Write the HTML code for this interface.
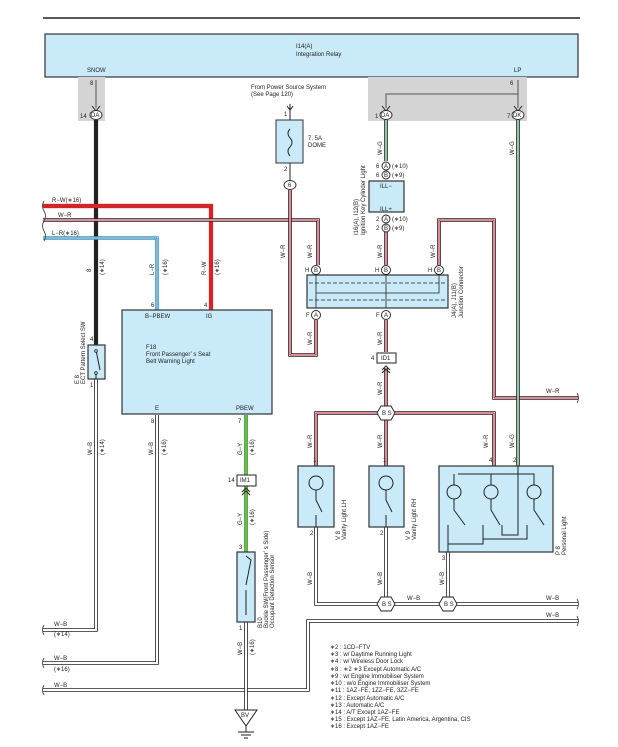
<!DOCTYPE html>
<html><head><meta charset="utf-8"><style>
html,body{margin:0;padding:0;background:#fff;}
svg{display:block;font-family:"Liberation Sans",sans-serif;}
text{font-size:6px;fill:#222;}
.k{fill:none;stroke:#222;stroke-width:3.6;}
.w{fill:none;stroke:#fff;stroke-width:2;}
.r{fill:none;stroke:#c8102e;stroke-width:1;}
.g{fill:none;stroke:#1a9a4a;stroke-width:1;}
.y{fill:none;stroke:#e6d400;stroke-width:1;}
.bl{fill:none;stroke:#2aa0c8;stroke-width:3.6;}
.box{fill:#c9eaf8;stroke:#333;stroke-width:1.2;}
.conn{fill:#fff;stroke:#222;stroke-width:0.9;}
</style></head><body>
<svg width="618" height="747" viewBox="0 0 618 747">
<defs>
<path id="p1" d="M96 379V630H43"/>
<path id="p2" d="M43 220H318V265"/>
<path id="p4" d="M290 190V355H316V320"/>
<path id="p5" d="M386 120V161"/>
<path id="p6" d="M386 232V265"/>
<path id="p7" d="M386 320V352M386 368V408"/>
<path id="p8" d="M439 265V220H494V398H578"/>
<path id="p9" d="M518 120V466"/>
<path id="p10" d="M316 466V413H381M391 413H494V466M386 418V466"/>
<path id="p11" d="M316 527V604H381M386 527V599M391 604H443M448 552V599M453 604H578"/>
<path id="p12" d="M578 621H308V690H43"/>
<path id="p13" d="M157 415V663H43"/>
<path id="p14" d="M246 415V475M246 486V552"/>
<path id="p15" d="M246 622V710"/>
</defs>
<line x1="43" y1="18" x2="580" y2="18" stroke="#222" stroke-width="1.5"/>
<rect x="45" y="34" width="533" height="43" class="box"/>
<text x="296" y="48">I14(A)</text><text x="296" y="56">Integration Relay</text>
<text x="87" y="72">SNOW</text><text x="514" y="72">LP</text>
<rect x="78" y="77" width="27" height="44" fill="#d4d4d4"/>
<rect x="368" y="77" width="159" height="44" fill="#d4d4d4"/>
<text x="90" y="85">8</text><text x="510" y="85">6</text>
<path d="M96 80V108M518 80V108M518 94H386V108" stroke="#555" stroke-width="1" fill="none"/>
<path d="M92 106L96 111L100 106M382 106L386 111L390 106M514 106L518 111L522 106" stroke="#222" fill="none"/>
<text x="80" y="118">14</text><text x="375" y="118">1</text><text x="507" y="118">7</text>
<path d="M96 120V345" stroke="#222" stroke-width="4.2"/>
<path d="M43 206H211V310" stroke="#e02020" stroke-width="4.2" fill="none"/>
<path d="M43 238H157V310" class="bl"/><path d="M43 238H157V310" class="w"/><path d="M43 238H157V310" stroke="#1a6ab0" stroke-width="1" fill="none"/>
<g>
<use href="#p1" class="k"/><use href="#p1" class="w"/>
<use href="#p2" class="k"/><use href="#p2" class="w"/><use href="#p2" class="r"/>
<use href="#p4" class="k"/><use href="#p4" class="w"/><use href="#p4" class="r"/>
<use href="#p5" class="k"/><use href="#p5" class="w"/><use href="#p5" class="g"/>
<use href="#p6" class="k"/><use href="#p6" class="w"/><use href="#p6" class="r"/>
<use href="#p7" class="k"/><use href="#p7" class="w"/><use href="#p7" class="r"/>
<use href="#p8" class="k"/><use href="#p8" class="w"/><use href="#p8" class="r"/>
<use href="#p9" class="k"/><use href="#p9" class="w"/><use href="#p9" class="g"/>
<use href="#p10" class="k"/><use href="#p10" class="w"/><use href="#p10" class="r"/>
<use href="#p11" class="k"/><use href="#p11" class="w"/>
<use href="#p12" class="k"/><use href="#p12" class="w"/>
<use href="#p13" class="k"/><use href="#p13" class="w"/>
<use href="#p14" stroke="#1a9a4a" stroke-width="3.6" fill="none"/><use href="#p14" class="y" stroke-width="1.8"/>
<use href="#p15" class="k"/><use href="#p15" class="w"/>
</g>
<path d="M44 201q-3 5 0 10q3 5 0 10q-3 5 0 10q3 5 0 10M44 625q-3 5 0 10M44 658q-3 5 0 10M44 685q-3 5 0 10M577 393q3 5 0 10M577 599q3 5 0 10M577 616q3 5 0 10" stroke="#333" fill="none" stroke-width="0.8"/>
<ellipse cx="96" cy="115" rx="6" ry="4.5" class="conn"/><text x="91" y="117" font-size="5">DA</text>
<ellipse cx="386" cy="115" rx="6" ry="4.5" class="conn"/><text x="381" y="117" font-size="5">DA</text>
<ellipse cx="518" cy="115" rx="6" ry="4.5" class="conn"/><text x="513" y="117" font-size="5">DK</text>
<text x="251" y="89">From Power Source System</text><text x="251" y="96">(See Page 120)</text>
<path d="M290 104V190M287 106L290 110L293 106" stroke="#222" fill="none"/>
<rect x="276" y="120" width="27" height="43" fill="#c9eaf8" stroke="#333"/>
<path d="M290 129q-4 4 0 9q4 4 0 9q-4 4 0 9" stroke="#222" fill="none"/>
<text x="284" y="116">1</text><text x="284" y="171">2</text>
<text x="308" y="140">7. 5A</text><text x="308" y="147">DOME</text>
<ellipse cx="290" cy="185" rx="6" ry="4.5" class="conn"/><text x="288" y="187" font-size="5">6</text>
<circle cx="386" cy="166" r="4" class="conn"/><text x="384" y="168" font-size="5">A</text>
<circle cx="386" cy="175" r="4" class="conn"/><text x="384" y="177" font-size="5">B</text>
<text x="376" y="168">6</text><text x="376" y="177">6</text><text x="392" y="168">(∗10)</text><text x="392" y="177">(∗9)</text>
<rect x="369" y="181" width="35" height="31" class="box"/><text x="380" y="188">ILL−</text><text x="380" y="211">ILL+</text>
<circle cx="386" cy="219" r="4" class="conn"/><text x="384" y="221" font-size="5">A</text>
<circle cx="386" cy="228" r="4" class="conn"/><text x="384" y="230" font-size="5">B</text>
<text x="376" y="221">2</text><text x="376" y="230">2</text><text x="392" y="221">(∗10)</text><text x="392" y="230">(∗9)</text>
<text transform="translate(358,235) rotate(-90)">I16(A), I12(B)</text>
<text transform="translate(365,235) rotate(-90)">Ignition Key Cylinder Light</text>
<rect x="307" y="275" width="141" height="33" class="box"/>
<path d="M309 283H446M309 300H446" stroke="#222" stroke-dasharray="4 2" stroke-width="0.7"/>
<path d="M316 275V308M386 275V308M439 275V293H316" stroke="#222" stroke-width="0.8" fill="none"/>
<circle cx="316" cy="270" r="4.5" class="conn"/><text x="314" y="272" font-size="5">B</text>
<circle cx="386" cy="270" r="4.5" class="conn"/><text x="384" y="272" font-size="5">B</text>
<circle cx="439" cy="270" r="4.5" class="conn"/><text x="437" y="272" font-size="5">B</text>
<circle cx="316" cy="315" r="4.5" class="conn"/><text x="314" y="317" font-size="5">A</text>
<circle cx="386" cy="315" r="4.5" class="conn"/><text x="384" y="317" font-size="5">A</text>
<text x="305" y="272">H</text><text x="375" y="272">H</text><text x="428" y="272">H</text>
<text x="306" y="317">F</text><text x="376" y="317">F</text>
<text transform="translate(456,318) rotate(-90)">J4(A), J11(B)</text>
<text transform="translate(463,318) rotate(-90)">Junction Connector</text>
<rect x="377" y="353" width="19" height="10" fill="#fff" stroke="#222"/><text x="381" y="360">ID1</text><text x="371" y="360">4</text>
<path d="M382 370L386 366L390 370M382 373L386 369L390 373" stroke="#222" fill="none"/>
<g class="conn"><polygon points="381,406 391,406 395,413 391,420 381,420 377,413"/><polygon points="381,597 391,597 395,604 391,611 381,611 377,604"/><polygon points="443,597 453,597 457,604 453,611 443,611 439,604"/></g>
<text x="382" y="415">B S</text><text x="382" y="606">B S</text><text x="444" y="606">B S</text>
<rect x="122" y="310" width="150" height="104" class="box"/>
<text x="145" y="318">B−PBEW</text><text x="206" y="318">IG</text>
<text x="146" y="349">F18</text><text x="146" y="356">Front Passenger’ s Seat</text><text x="146" y="363">Belt Warning Light</text>
<text x="155" y="410">E</text><text x="236" y="410">PBEW</text>
<text x="151" y="307">6</text><text x="204" y="307">4</text><text x="151" y="423">8</text><text x="238" y="423">7</text>
<rect x="88" y="345" width="17" height="34" class="box"/>
<path d="M96 350L100 370M96 374V379" stroke="#222" fill="none"/><circle cx="96" cy="351" r="1.3" class="conn"/><circle cx="96" cy="373" r="1.3" class="conn"/>
<text x="90" y="341">4</text><text x="90" y="387">1</text>
<text transform="translate(79,384) rotate(-90)">E 8</text><text transform="translate(85,384) rotate(-90)">ECT Pattern Select SW</text>
<rect x="237" y="475" width="19" height="11" fill="#fff" stroke="#222"/><text x="240" y="482">IM1</text><text x="228" y="482">14</text>
<path d="M242 492L246 488L250 492M242 495L246 491L250 495" stroke="#222" fill="none"/>
<rect x="237" y="552" width="18" height="70" class="box"/>
<path d="M246 556L251 560L246 585M246 590L246 615" stroke="#222" fill="none"/>
<text x="239" y="549">3</text><text x="239" y="630">1</text>
<text transform="translate(262,628) rotate(-90)">B10</text><text transform="translate(268,628) rotate(-90)">Buckle SW(Front Passenger’ s Side)</text><text transform="translate(274,628) rotate(-90)">Occupant Detection Sensor</text>
<polygon points="235,710 257,710 246,726" fill="#fff" stroke="#222"/><text x="241" y="717">BV</text>
<path d="M246 726V732M238 732H254M241 735H251M244 738H248" stroke="#222" fill="none"/>
<rect x="298" y="466" width="36" height="61" class="box"/>
<rect x="369" y="466" width="35" height="61" class="box"/>
<rect x="439" y="466" width="114" height="86" class="box"/>
<g stroke="#222" fill="none">
<circle cx="316" cy="483" r="7"/><circle cx="386" cy="483" r="7"/>
<path d="M316 490V500L322 512M316 515V527M386 490V500L392 512M386 515V527"/>
<circle cx="454" cy="492" r="7"/><circle cx="491" cy="492" r="7"/><circle cx="534" cy="492" r="7"/>
<path d="M458 474H534V485M491 474V485M454 485V474M454 499V510L465 525M491 499V510L500 525M534 499V510L544 525M448 525V544H483V525M518 466V535H502V525M448 544V552M527 525V539H483"/>
</g>
<text x="313" y="462">1</text><text x="383" y="462">1</text><text x="489" y="462">4</text><text x="513" y="462">2</text>
<text x="310" y="535">2</text><text x="380" y="535">2</text><text x="442" y="560">3</text>
<text transform="translate(340,540) rotate(-90)">V 8</text><text transform="translate(346,540) rotate(-90)">Vanity Light LH</text>
<text transform="translate(410,540) rotate(-90)">V 9</text><text transform="translate(416,540) rotate(-90)">Vanity Light RH</text>
<text transform="translate(560,555) rotate(-90)">P 8</text><text transform="translate(566,555) rotate(-90)">Personal Light</text>
<text x="52" y="202">R−W(∗16)</text><text x="58" y="217">W−R</text><text x="52" y="235">L−R(∗16)</text>
<text x="546" y="393">W−R</text><text x="407" y="600">W−B</text><text x="546" y="600">W−B</text><text x="546" y="617">W−B</text>
<text x="54" y="626">W−B</text><text x="54" y="636">(∗14)</text><text x="54" y="660">W−B</text><text x="54" y="671">(∗16)</text><text x="54" y="687">W−B</text>
<g>
<text transform="translate(91,272) rotate(-90)">8</text><text transform="translate(104,275) rotate(-90)">(∗14)</text>
<text transform="translate(154,275) rotate(-90)">L−R</text><text transform="translate(167,275) rotate(-90)">(∗16)</text>
<text transform="translate(206,275) rotate(-90)">R−W</text><text transform="translate(219,275) rotate(-90)">(∗16)</text>
<text transform="translate(285,258) rotate(-90)">W−R</text><text transform="translate(312,258) rotate(-90)">W−R</text>
<text transform="translate(382,258) rotate(-90)">W−R</text><text transform="translate(435,258) rotate(-90)">W−R</text>
<text transform="translate(382,155) rotate(-90)">W−G</text><text transform="translate(514,155) rotate(-90)">W−G</text>
<text transform="translate(312,345) rotate(-90)">W−R</text><text transform="translate(382,345) rotate(-90)">W−R</text>
<text transform="translate(382,395) rotate(-90)">W−R</text>
<text transform="translate(312,448) rotate(-90)">W−R</text><text transform="translate(382,448) rotate(-90)">W−R</text>
<text transform="translate(488,448) rotate(-90)">W−R</text><text transform="translate(514,448) rotate(-90)">W−G</text>
<text transform="translate(92,455) rotate(-90)">W−B</text><text transform="translate(104,455) rotate(-90)">(∗14)</text>
<text transform="translate(153,455) rotate(-90)">W−B</text><text transform="translate(166,455) rotate(-90)">(∗16)</text>
<text transform="translate(242,455) rotate(-90)">G−Y</text><text transform="translate(254,455) rotate(-90)">(∗16)</text>
<text transform="translate(242,525) rotate(-90)">G−Y</text><text transform="translate(254,525) rotate(-90)">(∗16)</text>
<text transform="translate(242,655) rotate(-90)">W−B</text><text transform="translate(254,655) rotate(-90)">(∗16)</text>
<text transform="translate(312,585) rotate(-90)">W−B</text><text transform="translate(382,585) rotate(-90)">W−B</text><text transform="translate(444,585) rotate(-90)">W−B</text>
</g>
<g font-size="6">
<text x="330" y="649">∗2 : 1CD−FTV</text>
<text x="330" y="656">∗3 : w/ Daytime Running Light</text>
<text x="330" y="663">∗4 : w/ Wireless Door Lock</text>
<text x="330" y="671">∗8 : ∗2 ∗3 Except Automatic A/C</text>
<text x="330" y="678">∗9 : w/ Engine Immobiliser System</text>
<text x="330" y="685">∗10 : w/o Engine Immobiliser System</text>
<text x="330" y="692">∗11 : 1AZ−FE,  1ZZ−FE,  3ZZ−FE</text>
<text x="330" y="700">∗12 : Except Automatic A/C</text>
<text x="330" y="707">∗13 : Automatic A/C</text>
<text x="330" y="714">∗14 : A/T Except 1AZ−FE</text>
<text x="330" y="721">∗15 : Except 1AZ−FE,  Latin America,  Argentina,  CIS</text>
<text x="330" y="728">∗16 : Except 1AZ−FE</text>
</g>
</svg>
</body></html>
